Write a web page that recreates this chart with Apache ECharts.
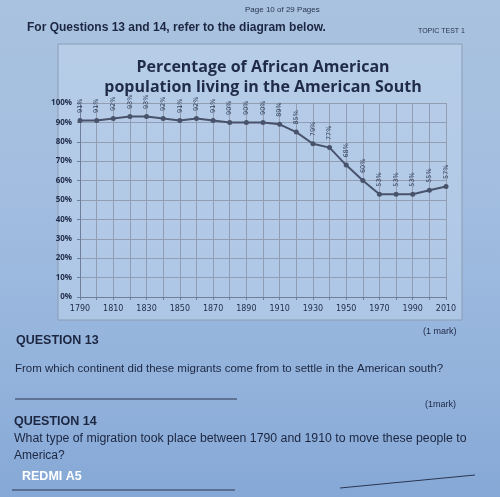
<!DOCTYPE html>
<html><head><meta charset="utf-8">
<script src="https://cdn.jsdelivr.net/npm/echarts@6/dist/echarts.min.js"></script>
<style>
html,body{margin:0;padding:0;width:500px;height:497px;overflow:hidden;
background:linear-gradient(180deg,#a9c2df 0%,#a2bde0 40%,#93b3dc 75%,#86a8d6 100%);}
#c{width:500px;height:497px;}
</style></head><body><div id="c"></div>
<script>
const years = ['1790','1800','1810','1820','1830','1840','1850','1860','1870','1880','1890','1900','1910','1920','1930','1940','1950','1960','1970','1980','1990','2000','2010'];
const percentSouth = [91,91,92,93,93,92,91,92,91,90,90,90,89,85,79,77,68,60,53,53,53,55,57];
const yTicks = [0,10,20,30,40,50,60,70,80,90,100];

const ink = '#1f2b47';
const chart = echarts.init(document.getElementById('c'), null, {renderer:'canvas'});
chart.setOption({
  backgroundColor: 'transparent',
  animation: false,
  title: {
    text: 'Percentage of African American\npopulation living in the American South',
    left: 258, top: 52, textAlign: 'center',
    textStyle: {fontFamily:'Open Sans', fontWeight:'bold', fontSize:16, lineHeight:20, color:ink}
  },
  grid: {left: 80, right: 54, top: 103, bottom: 200},
  xAxis: {
    type: 'category', data: years, boundaryGap: false,
    axisLine: {show:true, lineStyle:{color:'#6f7f99', width:1}},
    axisTick: {show:true, interval:0, length:3, lineStyle:{color:'#6f7f99'}},
    axisLabel: {interval:1, color:ink, fontFamily:'DejaVu Sans', fontSize:8, margin:8},
    splitLine: {show:true, interval:0, lineStyle:{color:'#909db2', width:1}}
  },
  yAxis: {
    type: 'value', min: 0, max: 100, interval: 10,
    axisLine: {show:true, lineStyle:{color:'#6f7f99', width:1}},
    axisTick: {show:true, length:3, lineStyle:{color:'#6f7f99'}},
    axisLabel: {formatter: v => v + '%', color: ink, fontFamily:'Open Sans', fontWeight:'bold', fontSize:8, margin:8},
    splitLine: {show:true, lineStyle:{color:'#909db2', width:1}}
  },
  series: [{
    type: 'line', data: percentSouth,
    symbol: 'circle', symbolSize: 5,
    itemStyle: {color:'#48536b'},
    lineStyle: {color:'#48536b', width:2},
    label: {show:true, position:'top', rotate:90, distance:5, align:'left', verticalAlign:'middle',
      formatter: p => p.value + '%', fontSize:6.5, color:'#2e3a55', fontFamily:'DejaVu Sans'}
  }],
  graphic: [
    {type:'rect', shape:{x:58,y:44,width:404,height:276}, style:{fill:'rgba(205,222,242,0.4)', stroke:'#8c9cb3', lineWidth:1}, z:-10},
    {type:'text', left:245, top:6, style:{text:'Page 10 of 29 Pages', fontFamily:'Liberation Sans', fontSize:8, fill:'#2a3550'}},
    {type:'text', left:27, top:22, style:{text:'For Questions 13 and 14, refer to the diagram below.', fontFamily:'Liberation Sans', fontWeight:'bold', fontSize:12, fill:'#1c2640'}},
    {type:'text', left:418, top:28, style:{text:'TOPIC TEST 1', fontFamily:'Liberation Sans', fontSize:7, fill:'#2a3550'}},
    {type:'text', left:16, top:334, style:{text:'QUESTION 13', fontFamily:'Liberation Sans', fontWeight:'bold', fontSize:12.5, fill:'#1c2640'}},
    {type:'text', left:423, top:327, style:{text:'(1 mark)', fontFamily:'Liberation Sans', fontSize:9, fill:'#1c2640'}},
    {type:'text', left:15, top:363, style:{text:'From which continent did these migrants come from to settle in the American south?', fontFamily:'Liberation Sans', fontSize:11.5, fill:'#1c2640'}},
    {type:'line', shape:{x1:15,y1:399,x2:237,y2:399}, style:{stroke:'#2a3550', lineWidth:1}},
    {type:'text', left:425, top:400, style:{text:'(1mark)', fontFamily:'Liberation Sans', fontSize:9, fill:'#1c2640'}},
    {type:'text', left:14, top:415, style:{text:'QUESTION 14', fontFamily:'Liberation Sans', fontWeight:'bold', fontSize:12.5, fill:'#1c2640'}},
    {type:'text', left:14, top:433, style:{text:'What type of migration took place between 1790 and 1910 to move these people to', fontFamily:'Liberation Sans', fontSize:12.3, fill:'#1c2640'}},
    {type:'text', left:14, top:450, style:{text:'America?', fontFamily:'Liberation Sans', fontSize:12, fill:'#1c2640'}},
    {type:'text', left:22, top:470, style:{text:'REDMI A5', fontFamily:'Liberation Sans', fontWeight:'bold', fontSize:12.5, fill:'#ffffff'}},
    {type:'line', shape:{x1:12,y1:490,x2:235,y2:490}, style:{stroke:'#2a3550', lineWidth:1}},
    {type:'line', shape:{x1:340,y1:488,x2:475,y2:475}, style:{stroke:'#2a3550', lineWidth:1}}
  ]
});
</script></body></html>
